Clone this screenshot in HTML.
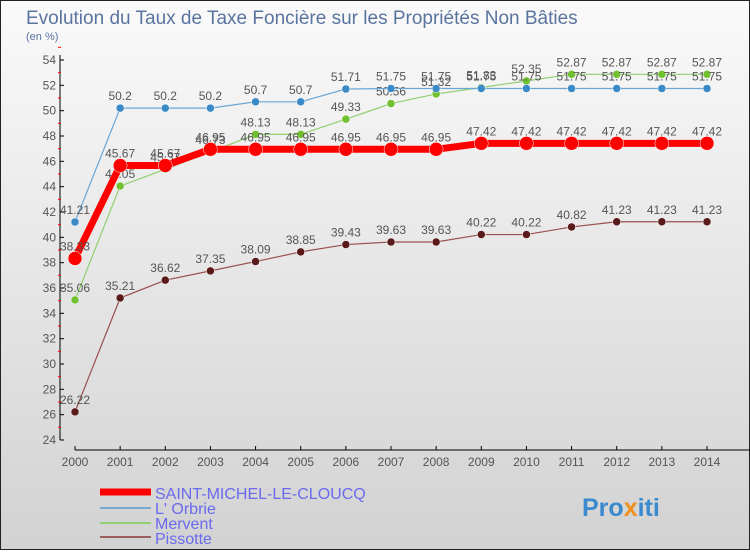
<!DOCTYPE html>
<html><head><meta charset="utf-8"><style>
body{margin:0}svg text{font-family:"Liberation Sans",sans-serif}
</style></head><body>
<svg id="c" width="750" height="550" xmlns="http://www.w3.org/2000/svg">
<defs><linearGradient id="bg" x1="0" y1="0" x2="0" y2="1"><stop offset="0" stop-color="#fafafa"/><stop offset="1" stop-color="#d2d2d2"/></linearGradient></defs>
<rect x="0.5" y="0.5" width="749" height="549" fill="url(#bg)" stroke="#222"/>
<text x="26" y="24" font-size="19" fill="#5a74a0">Evolution du Taux de Taxe Foncière sur les Propriétés Non Bâties</text>
<text x="26" y="40" font-size="11" fill="#5a74a0">(en %)</text>
<g id="axes"></g><g id="series"></g>
<g>
<line x1="100" y1="492" x2="151" y2="492" stroke="#f00" stroke-width="7"/>
<text x="155" y="499" font-size="16" fill="#6a6aee">SAINT-MICHEL-LE-CLOUCQ</text>
<line x1="100" y1="508" x2="151" y2="508" stroke="#7aaad0" stroke-width="2"/>
<text x="155" y="514" font-size="16" fill="#6a6aee">L' Orbrie</text>
<line x1="100" y1="523" x2="151" y2="523" stroke="#90d070" stroke-width="2"/>
<text x="155" y="529" font-size="16" fill="#6a6aee">Mervent</text>
<line x1="100" y1="537" x2="151" y2="537" stroke="#9a6060" stroke-width="2"/>
<text x="155" y="544" font-size="16" fill="#6a6aee">Pissotte</text>
</g>
<text x="582" y="516" font-size="25" font-weight="bold" fill="#3a8ad0">Pro<tspan fill="#f09020">x</tspan>iti</text>
</svg>
<script>
const years=[2000,2001,2002,2003,2004,2005,2006,2007,2008,2009,2010,2011,2012,2013,2014];
const yTicks=[24,26,28,30,32,34,36,38,40,42,44,46,48,50,52,54];
const stMichel=[38.33,45.67,45.67,46.95,46.95,46.95,46.95,46.95,46.95,47.42,47.42,47.42,47.42,47.42,47.42];
const orbrie=[41.21,50.2,50.2,50.2,50.7,50.7,51.71,51.75,51.75,51.75,51.75,51.75,51.75,51.75,51.75];
const mervent=[35.06,44.05,45.37,46.73,48.13,48.13,49.33,50.56,51.32,51.83,52.35,52.87,52.87,52.87,52.87];
const pissotte=[26.22,35.21,36.62,37.35,38.09,38.85,39.43,39.63,39.63,40.22,40.22,40.82,41.23,41.23,41.23];
const NS='http://www.w3.org/2000/svg';
const X=i=>75+i*(707-75)/(years.length-1);
const Y=v=>440-(v-24)*(380/30);
function mk(t,a,p){const e=document.createElementNS(NS,t);for(const k in a)e.setAttribute(k,a[k]);p.appendChild(e);return e;}
const ax=document.getElementById('axes');
let l=mk('line',{x1:60,y1:55,x2:60,y2:440,stroke:'#000'},ax);

yTicks.forEach(v=>{
 mk('line',{x1:60,y1:Y(v),x2:64,y2:Y(v),stroke:'#000'},ax);
 mk('line',{x1:58,y1:Y(v+1),x2:61,y2:Y(v+1),stroke:'#f00'},ax);
 const t=mk('text',{x:56,y:Y(v)+4,'font-size':12,fill:'#555','text-anchor':'end'},ax);t.textContent=v;
 
});
l=mk('line',{x1:75,y1:450,x2:750,y2:450,stroke:'#000'},ax);

years.forEach((yr,i)=>{
 mk('line',{x1:X(i),y1:446,x2:X(i),y2:450,stroke:'#000'},ax);
 const t=mk('text',{x:X(i),y:466,'font-size':12,fill:'#555','text-anchor':'middle'},ax);t.textContent=yr;
 
});
const sg=document.getElementById('series');
function draw(data,color,w,r,dot,name){
 const g=mk('g',{},sg);
 
 const pl=mk('polyline',{points:data.map((v,i)=>X(i)+','+Y(v)).join(' '),fill:'none',stroke:color,'stroke-width':w},g);
 
 data.forEach((v,i)=>{
  const c=mk('circle',{cx:X(i),cy:Y(v),r:r,fill:dot,stroke:'#fff','stroke-width':0.5},g);
  
  const t=mk('text',{x:X(i),y:Y(v)-8,'font-size':12,fill:'#555','text-anchor':'middle'},g);t.textContent=v;
  
 });
}
draw(pissotte,'#9a5050',1.2,4,'#5a1a1a','pissotte');
draw(mervent,'#90d070',1.2,4,'#70c030','mervent');
draw(orbrie,'#6aa6d6',1.2,4,'#3a8ac8','orbrie');
draw(stMichel,'#f00',7,7,'#f00','saint-michel');
</script>
</body></html>
